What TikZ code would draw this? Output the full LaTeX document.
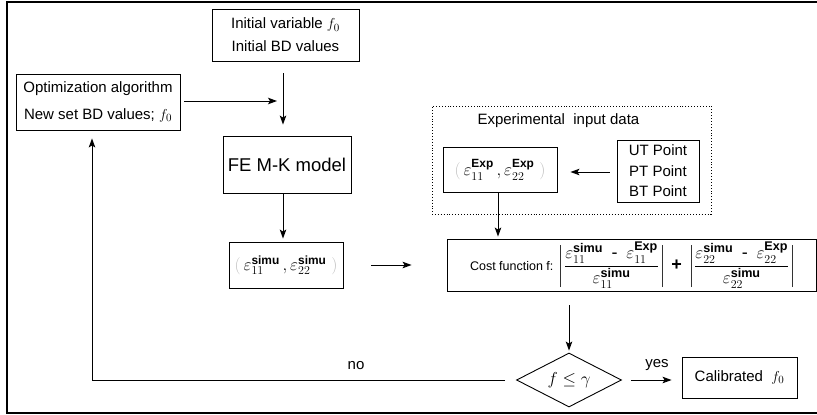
\documentclass[tikz,border=0pt]{standalone}
\usepackage{amsmath}
\usepackage{fontspec}
\setmainfont{Liberation Sans}
\usetikzlibrary{shapes.geometric,arrows.meta}
\newcommand{\simu}{\text{\bfseries simu}}
\newcommand{\expt}{\text{\bfseries Exp}}
\newcommand{\vbarr}{\vcenter{\hbox{\color{black!80}\rule{0.8pt}{42pt}}}}
\newcommand{\hyph}{\mathbin{\text{-}}}
\begin{document}
\begin{tikzpicture}[x=1pt,y=-1pt,
  box/.style={draw,line width=0.9pt,inner sep=0pt,align=center},
  arr/.style={draw,line width=0.9pt,-{Stealth[length=9pt,width=6.5pt,inset=2pt]}},
  txt/.style={font=\fontsize{15}{23}\selectfont}]
\useasboundingbox (0,0) rectangle (817,415);
\draw[line width=1.5pt] (817,2) -- (7,2) -- (7,413) -- (817,413);

\node[box,txt,minimum width=147pt,minimum height=52pt] (init) at (285.5,35)
  {Initial variable $f_0$\\Initial BD values};
\node[box,minimum width=164pt,minimum height=56pt,font=\fontsize{15}{27}\selectfont] (opt) at (98,102)
  {Optimization algorithm\\New set BD values; $f_0$};
\node[box,minimum width=128pt,minimum height=57pt,font=\fontsize{18.5}{22}\selectfont] (FE) at (287,164.5)
  {FE M-K model};
\node[box,minimum width=114pt,minimum height=46pt,font=\fontsize{17}{20}\selectfont] (simu) at (286,265)
  {$\textcolor{black!25}{(}\,\varepsilon_{11}^{\simu}\,,\varepsilon_{22}^{\simu}\;\textcolor{black!25}{)}$};

\node[draw,dotted,line width=0.9pt,minimum width=279pt,minimum height=108pt,inner sep=0pt] (grp) at (571.5,160) {};
\node[txt,anchor=west] (grplabel) at (474,121) {Experimental\ \ input data};
\node[box,minimum width=114pt,minimum height=45pt,font=\fontsize{17}{20}\selectfont] (exp) at (500,169.5)
  {$\textcolor{black!25}{(}\,\varepsilon_{11}^{\expt}\,,\varepsilon_{22}^{\expt}\;\textcolor{black!25}{)}$};
\node[box,minimum width=82pt,minimum height=62pt,font=\fontsize{15}{20.5}\selectfont] (UT) at (658,171)
  {UT Point\\PT Point\\BT Point};

\node[box,minimum width=369pt,minimum height=52pt] (cost) at (631.5,265)
  {\fontsize{12.5}{15}\selectfont Cost function f:\ \ \fontsize{18}{21}\selectfont
   $\vbarr\,\dfrac{\varepsilon_{11}^{\simu}\;\hyph\;\varepsilon_{11}^{\expt}}{\varepsilon_{11}^{\simu}}\,\vbarr
   \;\mathbin{\text{\bfseries +}}\;
   \vbarr\,\dfrac{\varepsilon_{22}^{\simu}\;\hyph\;\varepsilon_{22}^{\expt}}{\varepsilon_{22}^{\simu}}\,\vbarr$};

\node[draw,diamond,line width=0.9pt,minimum width=105pt,minimum height=54pt,inner sep=0pt,aspect=2,
  font=\fontsize{17}{20}\selectfont] (dia) at (569,380) {$f\le\gamma$};
\node[box,minimum width=115pt,minimum height=41pt,font=\fontsize{15}{18}\selectfont] (cal) at (739.5,377.5)
  {Calibrated\ \ $f_0$};

\coordinate (merge) at (283,101);
\coordinate (corner) at (92,380);

\draw[arr,shorten <=4pt,shorten >=6pt] (opt.east |- merge) -- (merge);
\draw[arr,shorten <=12pt,shorten >=11pt] (init.south -| merge) -- (FE.north -| merge);
\draw[arr,shorten >=3pt] (FE.south -| merge) -- (simu.north -| merge);
\draw[arr,shorten <=28pt,shorten >=35pt] (simu.east) -- (cost.west);
\draw[arr,shorten <=7pt,shorten >=13pt] (UT.west |- 0,172) -- (exp.east |- 0,172);
\draw[arr,shorten >=2pt] (exp.south -| 498,0) -- (cost.north -| 498,0);
\draw[arr,shorten <=14pt,shorten >=2pt] (cost.south -| dia.north) -- (dia.north);
\draw[arr,shorten <=9pt,shorten >=10pt] (dia.east) -- (cal.west |- dia.east);
\draw[arr,shorten >=8pt] ([xshift=-11pt]dia.west) -- (corner) -- (corner |- opt.south);

\node[font=\fontsize{15}{18}\selectfont] (nolab) at (356,366) {no};
\node[font=\fontsize{15}{18}\selectfont] (yeslab) at (657,365) {yes};
\end{tikzpicture}
\end{document}
